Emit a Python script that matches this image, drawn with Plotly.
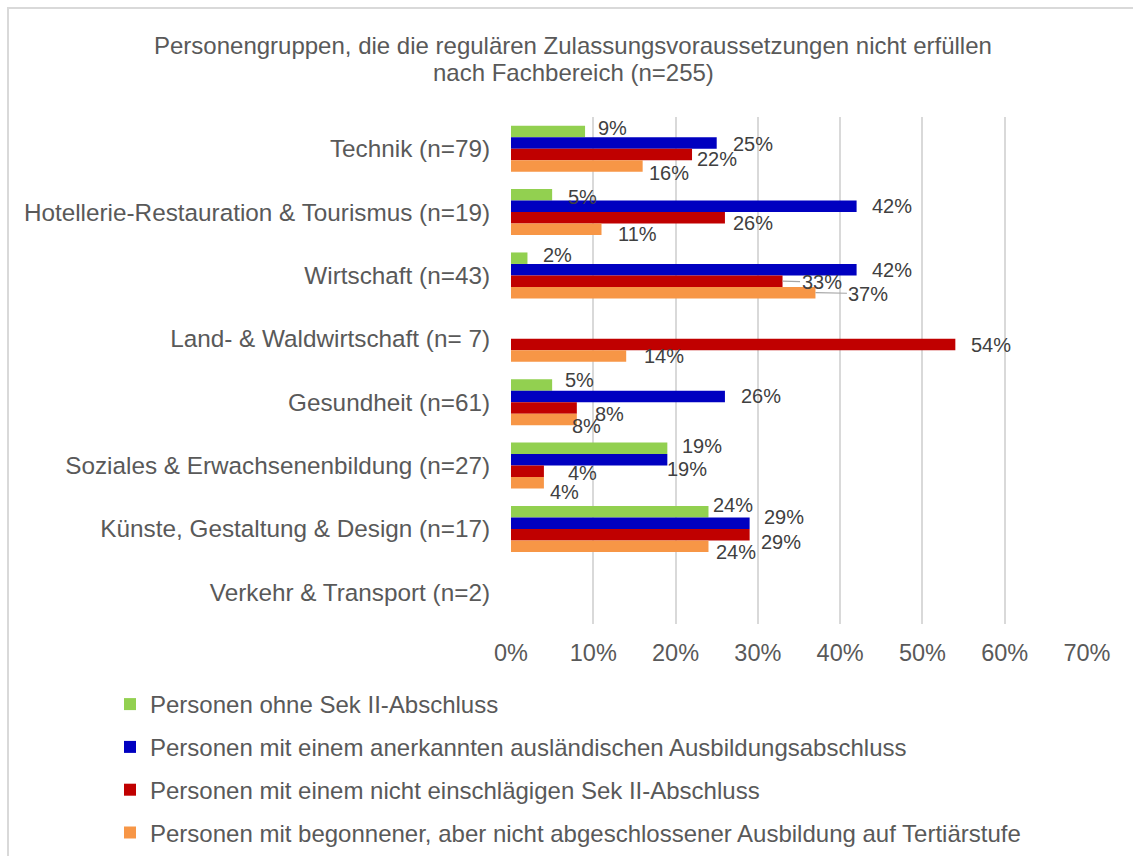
import plotly.graph_objects as go

# ---------------- data ----------------
categories = [
    "Technik (n=79)",
    "Hotellerie-Restauration & Tourismus (n=19)",
    "Wirtschaft (n=43)",
    "Land- & Waldwirtschaft (n= 7)",
    "Gesundheit (n=61)",
    "Soziales & Erwachsenenbildung (n=27)",
    "Künste, Gestaltung & Design (n=17)",
    "Verkehr & Transport (n=2)",
]
series_names = [
    "Personen ohne Sek II-Abschluss",
    "Personen mit einem anerkannten ausländischen Ausbildungsabschluss",
    "Personen mit einem nicht einschlägigen Sek II-Abschluss",
    "Personen mit begonnener, aber nicht abgeschlossener Ausbildung auf Tertiärstufe",
]
ohne_sek2 = [9, 5, 2, None, 5, 19, 24, None]
auslaendisch = [25, 42, 42, None, 26, 19, 29, None]
nicht_einschlaegig = [22, 26, 33, 54, 8, 4, 29, None]
begonnen_tertiaer = [16, 11, 37, 14, 8, 4, 24, None]
x_tickvals = [0, 10, 20, 30, 40, 50, 60, 70]
x_ticktext = ["0%", "10%", "20%", "30%", "40%", "50%", "60%", "70%"]

series_values = [ohne_sek2, auslaendisch, nicht_einschlaegig, begonnen_tertiaer]
colors = ["#92D050", "#0000C0", "#C00000", "#F79646"]

# label nudges (pixels) as placed in the original chart: (dx, dy)
label_nudge = [
    [(13, -3), (16, 2), (16, -3), None, (13, -5), (15, -2), (5, -7), None],
    [(16, 1), (15, 0), (15, 0), None, (16, 0), (0, 9), (14, -6), None],
    [(5, 5), (8, 5), (17, 1), (16, 0), (18, 6), (24, 2), (11, 7), None],
    [(6, 7), (16, 5), (31, 1), (18, 0), (-5, 7), (6, 9), (8, 6), None],
]
leader = {(2, 2): True, (3, 2): True}  # (series, category) with leader line

# ---------------- layout geometry ----------------
W, H = 1133, 856
L, R, T, B = 511, 46, 117, 232
plot_w = W - L - R
plot_h = H - T - B
bargap = 0.275


def px_x(x):
    return (x - L) / plot_w


def px_y(y):
    return (H - B - y) / plot_h


slot = plot_h / len(categories)
bar_h = slot * (1 - bargap) / len(series_values)

grey_text = "#595959"
label_text = "#404040"
font_family = "Liberation Sans, Arial, sans-serif"
lab_size = 20

fig = go.Figure()
for i, (name, vals, col) in enumerate(zip(series_names, series_values, colors)):
    fig.add_trace(go.Bar(
        y=categories, x=vals, name=name, orientation="h",
        marker=dict(color=col, line=dict(width=0)),
        legendgroup=f"g{i}",
        hoverinfo="skip",
    ))

annotations = []
for i, vals in enumerate(series_values):
    offset = (i - (len(series_values) - 1) / 2) * bar_h
    for j, v in enumerate(vals):
        if v is None:
            continue
        dx, dy = label_nudge[i][j]
        txt = f"{v}%"
        if leader.get((i, j)):
            tw = (0.556 * (len(txt) - 1) + 0.889) * lab_size
            annotations.append(dict(
                x=v, y=categories[j], xref="x", yref="y", text=txt,
                showarrow=True, arrowhead=0, arrowwidth=1.2, arrowcolor="#A6A6A6",
                ax=dx + tw / 2 + 2, ay=dy, axref="pixel", ayref="pixel",
                yshift=-offset, standoff=0,
                font=dict(family=font_family, size=lab_size, color=label_text),
            ))
        else:
            annotations.append(dict(
                x=v, y=categories[j], xref="x", yref="y", text=txt,
                showarrow=False, xanchor="left", yanchor="middle",
                xshift=dx - 2, yshift=-(offset + dy),
                font=dict(family=font_family, size=lab_size, color=label_text),
            ))

# title as two tightly spaced lines
annotations.append(dict(
    x=px_x(573), y=px_y(46), xref="paper", yref="paper",
    text="Personengruppen, die die regulären Zulassungsvoraussetzungen nicht erfüllen",
    showarrow=False, xanchor="center", yanchor="middle",
    font=dict(family=font_family, size=24, color=grey_text),
))
annotations.append(dict(
    x=px_x(573), y=px_y(72), xref="paper", yref="paper",
    text="nach Fachbereich (n=255)",
    showarrow=False, xanchor="center", yanchor="middle",
    font=dict(family=font_family, size=24, color=grey_text),
))

fig.update_layout(
    width=W, height=H,
    margin=dict(l=L, r=R, t=T, b=B, autoexpand=False),
    paper_bgcolor="white", plot_bgcolor="white",
    barmode="group", bargap=bargap, bargroupgap=0,
    font=dict(family=font_family, color=grey_text),
    showlegend=True,
    legend=dict(
        x=px_x(110), y=px_y(682), xanchor="left", yanchor="top",
        orientation="v", tracegroupgap=8.6, traceorder="grouped",
        font=dict(family=font_family, size=24, color=grey_text),
        bgcolor="rgba(0,0,0,0)", borderwidth=0,
    ),
    xaxis=dict(
        range=[0, 70], tickmode="array", tickvals=x_tickvals, ticktext=x_ticktext,
        showgrid=True, gridcolor="#D9D9D9", gridwidth=1.5,
        zeroline=False, showline=False, ticks="",
        ticklabelstandoff=12,
        tickfont=dict(family=font_family, size=23.5, color=grey_text),
        fixedrange=True,
    ),
    yaxis=dict(
        type="category", categoryorder="array", categoryarray=categories,
        range=[len(categories) - 0.5, -0.5], autorange=False,
        showgrid=False, zeroline=False, showline=False,
        ticks="", ticklabelstandoff=20,
        tickfont=dict(family=font_family, size=24.3, color=grey_text),
        fixedrange=True,
    ),
    annotations=annotations,
    shapes=[dict(
        type="rect", xref="paper", yref="paper",
        x0=px_x(8), x1=px_x(1200), y0=px_y(900), y1=px_y(8),
        line=dict(color="#D9D9D9", width=2), fillcolor="rgba(0,0,0,0)",
        layer="below",
    )],
)

fig.write_html(
    "out.html",
    config={"displayModeBar": False},
    post_script="document.body.style.margin='0';document.body.style.padding='0';",
)
